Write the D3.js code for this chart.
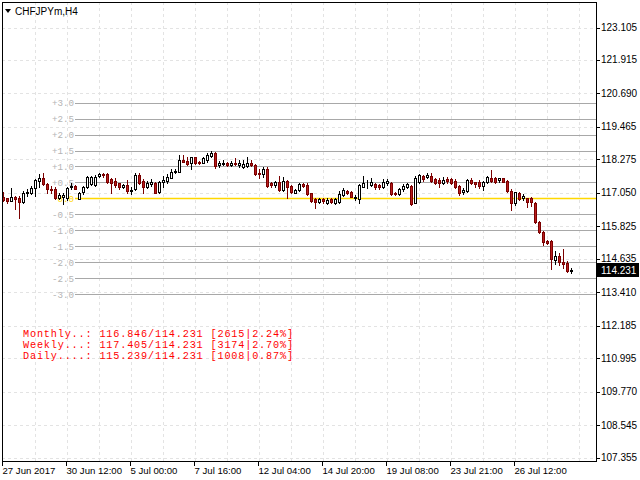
<!DOCTYPE html>
<html><head><meta charset="utf-8">
<script src="https://cdn.jsdelivr.net/npm/d3@7"></script>
<style>body{margin:0;background:#fff}svg{display:block}</style>
</head><body>
<svg id="chart" width="640" height="480"></svg>
<script>
// ---- data ----
const opens = [116.90,116.85,116.76,116.90,116.85,116.71,117.03,117.03,117.21,117.49,117.58,117.38,117.19,117.19,116.87,116.91,116.87,117.25,117.30,116.83,117.09,117.25,117.36,117.33,117.66,117.74,117.74,117.54,117.49,117.40,117.25,117.33,117.12,117.18,117.70,117.49,117.27,117.37,117.42,117.07,117.46,117.49,117.60,117.81,117.82,118.27,118.22,118.13,118.35,118.19,118.15,118.27,118.39,118.51,118.06,118.10,118.15,118.06,118.13,118.06,117.99,118.03,118.13,118.06,117.78,117.74,117.94,117.40,117.33,117.46,117.15,117.49,117.30,117.05,117.15,117.37,117.33,117.03,116.81,116.70,116.81,116.69,116.81,116.69,116.73,116.97,117.13,117.09,116.85,116.81,117.27,117.40,117.33,117.37,117.33,117.25,117.42,117.42,117.05,117.01,117.18,117.27,117.30,116.69,117.46,117.66,117.62,117.66,117.54,117.52,117.42,117.54,117.54,117.49,117.30,117.09,117.12,117.52,117.43,117.43,117.31,117.43,117.60,117.60,117.52,117.58,117.48,117.12,116.67,117.03,116.87,116.85,116.87,116.67,115.97,115.63,115.27,115.29,114.60,114.75,114.51,114.48,114.17];
const highs = [117.08,116.87,117.23,116.93,116.93,117.13,117.18,117.30,117.54,117.74,117.78,117.42,117.31,117.25,117.03,117.04,117.27,117.42,117.33,117.09,117.30,117.67,117.66,117.71,117.76,117.76,117.76,117.58,117.58,117.42,117.37,117.52,117.25,117.78,117.76,117.54,117.49,117.54,117.46,117.49,117.66,117.74,117.94,117.94,118.43,118.43,118.35,118.37,118.37,118.21,118.35,118.49,118.59,118.55,118.21,118.25,118.17,118.21,118.31,118.25,118.25,118.35,118.27,118.10,117.94,117.98,117.98,117.46,117.49,117.66,117.62,117.52,117.33,117.18,117.40,117.42,117.40,117.05,116.85,116.85,116.85,116.85,116.85,116.85,117.13,117.21,117.15,117.13,116.97,117.37,117.66,117.52,117.58,117.40,117.37,117.54,117.54,117.46,117.09,117.21,117.37,117.42,117.33,117.66,117.74,117.70,117.78,117.78,117.58,117.58,117.62,117.62,117.58,117.54,117.33,117.21,117.55,117.58,117.46,117.52,117.48,117.67,117.88,117.64,117.60,117.60,117.52,117.19,117.09,117.07,116.99,116.87,116.91,116.70,116.02,115.66,115.33,115.33,114.93,114.84,115.00,114.54,114.30];
const lows = [116.75,116.69,116.74,116.47,116.12,116.69,116.94,117.00,116.93,117.27,117.35,117.03,117.03,116.81,116.81,116.63,116.79,117.18,117.19,116.81,117.01,117.24,117.33,117.30,117.62,117.62,117.42,117.05,117.27,117.18,117.21,117.05,117.01,117.15,117.37,117.03,117.21,117.30,117.03,117.03,117.27,117.42,117.58,117.76,117.80,118.18,118.07,117.92,118.10,118.10,118.13,118.19,118.37,117.97,117.99,118.07,118.04,118.03,118.07,117.99,117.97,117.98,118.03,117.70,117.58,117.64,117.27,117.27,117.27,117.13,117.13,116.85,117.05,117.03,117.13,117.25,116.97,116.72,116.48,116.67,116.69,116.64,116.67,116.64,116.69,116.93,117.01,116.89,116.79,116.69,117.25,117.21,117.30,117.19,117.18,117.21,117.33,116.97,116.97,116.97,117.13,117.21,116.60,116.67,117.42,117.49,117.58,117.46,117.37,117.25,117.37,117.42,117.37,117.21,116.97,117.00,117.09,117.36,117.27,117.24,117.15,117.40,117.43,117.40,117.46,117.43,117.09,116.42,116.61,116.79,116.79,116.54,116.58,115.94,115.57,115.14,115.17,114.27,114.44,114.39,114.29,114.15,114.11];
const closes = [116.79,116.76,116.89,116.83,116.71,117.05,117.09,117.21,117.52,117.58,117.36,117.19,117.14,116.87,116.96,116.97,117.24,117.30,117.20,117.05,117.25,117.64,117.62,117.64,117.74,117.69,117.46,117.42,117.32,117.25,117.33,117.13,117.15,117.70,117.42,117.27,117.40,117.46,117.05,117.46,117.52,117.62,117.82,117.86,118.27,118.19,118.10,118.35,118.15,118.13,118.31,118.43,118.49,118.03,118.15,118.15,118.06,118.13,118.10,118.13,118.10,118.15,118.06,117.74,117.74,117.94,117.30,117.33,117.46,117.15,117.49,117.27,117.09,117.15,117.37,117.30,117.01,116.76,116.70,116.81,116.76,116.79,116.73,116.81,117.01,117.15,117.03,116.91,116.91,117.33,117.42,117.42,117.46,117.25,117.25,117.46,117.49,117.01,117.01,117.18,117.30,117.37,116.64,117.58,117.70,117.54,117.70,117.49,117.42,117.42,117.52,117.49,117.42,117.27,117.05,117.15,117.52,117.40,117.36,117.31,117.43,117.64,117.48,117.46,117.58,117.46,117.12,116.67,117.07,116.82,116.94,116.72,116.72,115.97,115.61,115.24,115.23,114.63,114.75,114.51,114.44,114.17,114.231];
const timeLabels = ["27 Jun 2017","30 Jun 12:00","5 Jul 00:00","7 Jul 16:00","12 Jul 04:00","14 Jul 20:00","19 Jul 08:00","23 Jul 21:00","26 Jul 12:00"];
const priceTicks = [123.105,121.915,120.690,119.465,118.275,117.050,115.825,114.635,113.410,112.185,110.995,109.770,108.545,107.355];
const levelPercents = [3.0,2.5,2.0,1.5,1.0,0.5,0,-0.5,-1.0,-1.5,-2.0,-2.5,-3.0];
const levelLabels = ["+3.0","+2.5","+2.0","+1.5","+1.0","+0.5","0.0","-0.5","-1.0","-1.5","-2.0","-2.5","-3.0"];
const monthlyOpen = 116.846;
const infoNames = ["Monthly..:","Weekly...:","Daily....:"];
const infoOpens = ["116.846","117.405","115.239"];
const infoCloses = ["114.231","114.231","114.231"];
const infoPoints = ["2615","3174","1008"];
const infoPercents = ["2.24%","2.70%","0.87%"];
const symbolTitle = "CHFJPYm,H4";
const lastPrice = 114.231;

// ---- layout ----
const svg = d3.select("#chart");
const plotL = 2, plotR = 596, plotT = 2, plotB = 461;
const n = closes.length;
const x = d3.scaleLinear().domain([0, n - 1]).range([3.5, 3.5 + 4 * (n - 1)]);
const y = d3.scaleLinear().domain([107.355, 123.105]).range([457.5, 27.5]);
const sansFont = "'Liberation Sans', Arial, sans-serif";
const monoFont = "'Liberation Mono', 'Courier New', monospace";

// grid
const g = svg.append("g");
const vIdx = d3.range(8, 200, 8).filter(i => x(i) < plotR);
g.selectAll("line.vg").data(vIdx).join("line")
  .attr("x1", i => x(i)).attr("x2", i => x(i))
  .attr("y1", plotT).attr("y2", plotB)
  .attr("stroke", "#e3e3e3").attr("stroke-dasharray", "3,3");
g.selectAll("line.hg").data(priceTicks).join("line")
  .attr("x1", plotL).attr("x2", plotR)
  .attr("y1", d => Math.round(y(d)) + 0.5).attr("y2", d => Math.round(y(d)) + 0.5)
  .attr("stroke", "#e3e3e3").attr("stroke-dasharray", "3,3");

// percentage levels
const lv = svg.append("g");
const levels = levelPercents.map((p, i) => ({p, label: levelLabels[i], price: monthlyOpen * (1 + p / 100)}));
lv.selectAll("line").data(levels).join("line")
  .attr("x1", 75).attr("x2", plotR)
  .attr("y1", d => Math.round(y(d.price)) + 0.5).attr("y2", d => Math.round(y(d.price)) + 0.5)
  .attr("stroke", d => d.p === 0 ? "#ffd800" : "#a8a8a8")
  .attr("stroke-width", d => d.p === 0 ? 1.6 : 1);
lv.selectAll("text").data(levels).join("text")
  .attr("x", 74).attr("y", d => y(d.price) + 3.5)
  .attr("text-anchor", "end")
  .attr("font-family", monoFont).attr("font-size", 9.2)
  .attr("fill", d => d.p === 0 ? "#ffd800" : "#b4b4b4")
  .text(d => d.label);

// info block
const info = svg.append("g");
infoNames.forEach((nm, i) => {
  info.append("text")
    .attr("x", 23).attr("y", 337 + i * 11)
    .attr("font-family", monoFont).attr("font-size", 10.2)
    .attr("textLength", 270).attr("lengthAdjust", "spacing")
    .attr("fill", "#ff0000")
    .attr("xml:space", "preserve")
    .text(`${nm} ${infoOpens[i]}/${infoCloses[i]} [${infoPoints[i]}|${infoPercents[i]}]`);
});

// candles
const candles = d3.range(n).map(i => ({i, o: opens[i], h: highs[i], l: lows[i], c: closes[i]}));
const cg = svg.append("g");
const cs = cg.selectAll("g").data(candles).join("g");
cs.append("line")
  .attr("x1", d => x(d.i)).attr("x2", d => x(d.i))
  .attr("y1", d => Math.round(y(d.h))).attr("y2", d => Math.round(y(d.l)) + 1)
  .attr("stroke", d => d.c >= d.o ? "#000000" : "#7a0000");
cs.append("rect")
  .attr("x", d => x(d.i) - 1)
  .attr("y", d => Math.round(y(Math.max(d.o, d.c))) + 0.5)
  .attr("width", 2)
  .attr("height", d => Math.max(0, Math.round(y(Math.min(d.o, d.c))) - Math.round(y(Math.max(d.o, d.c)))))
  .attr("fill", d => d.c >= d.o ? "#ffffff" : "#b81c1c")
  .attr("stroke", d => d.c >= d.o ? "#000000" : "#7a0000");

// frame and axes
const ax = svg.append("g").attr("stroke", "#000").attr("shape-rendering", "crispEdges");
ax.append("line").attr("x1", plotL + 0.5).attr("x2", plotL + 0.5).attr("y1", plotT).attr("y2", plotB + 1);
ax.append("line").attr("x1", plotL).attr("x2", plotR + 1).attr("y1", plotT + 0.5).attr("y2", plotT + 0.5);
ax.append("line").attr("x1", plotR + 0.5).attr("x2", plotR + 0.5).attr("y1", plotT).attr("y2", plotB + 1);
ax.append("line").attr("x1", plotL).attr("x2", plotR + 1).attr("y1", plotB + 0.5).attr("y2", plotB + 0.5);

// right price axis
const ra = svg.append("g");
ra.selectAll("line").data(priceTicks).join("line")
  .attr("x1", plotR).attr("x2", plotR + 4)
  .attr("y1", d => Math.round(y(d)) + 0.5).attr("y2", d => Math.round(y(d)) + 0.5)
  .attr("stroke", "#000");
ra.selectAll("text").data(priceTicks).join("text")
  .attr("x", plotR + 5).attr("y", d => y(d) + 3.5)
  .attr("font-family", sansFont).attr("font-size", 10)
  .attr("fill", "#000")
  .text(d => d.toFixed(3));

// last price box
const ly = Math.round(y(lastPrice));
svg.append("rect").attr("x", plotR + 1).attr("y", ly - 7).attr("width", 42).attr("height", 14).attr("fill", "#000");
svg.append("text").attr("x", plotR + 5).attr("y", ly + 3.5)
  .attr("font-family", sansFont).attr("font-size", 10).attr("fill", "#fff")
  .text(lastPrice.toFixed(3));

// bottom time axis
const ba = svg.append("g");
const tIdx = timeLabels.map((t, k) => ({t, i: k * 16}));
ba.selectAll("line").data(tIdx).join("line")
  .attr("x1", d => x(d.i) - 1).attr("x2", d => x(d.i) - 1)
  .attr("y1", plotB).attr("y2", plotB + 5)
  .attr("stroke", "#000");
ba.selectAll("text").data(tIdx).join("text")
  .attr("x", d => x(d.i) - 1).attr("y", 474)
  .attr("font-family", sansFont).attr("font-size", 9.6)
  .attr("fill", "#000")
  .text(d => d.t);

// title
svg.append("path").attr("d", "M5,9 L11,9 L8,13 Z").attr("fill", "#000");
svg.append("text").attr("x", 15).attr("y", 15)
  .attr("font-family", sansFont).attr("font-size", 10).attr("fill", "#000")
  .text(symbolTitle);
</script>
</body></html>
